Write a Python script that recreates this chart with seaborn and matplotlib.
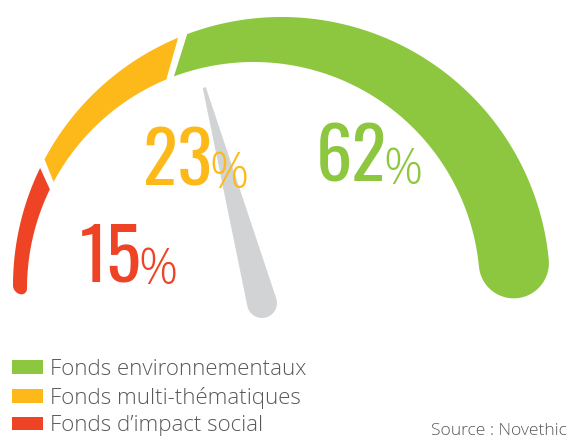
import numpy as np
import matplotlib
matplotlib.use("Agg")
import matplotlib.pyplot as plt
from matplotlib.patches import Patch, Polygon
import seaborn as sns

# ---- data ----
categories = ["Fonds d\u2019impact social", "Fonds multi-th\u00e9matiques", "Fonds environnementaux"]
values = [15, 23, 62]
colors = ["#EE4324", "#FDB819", "#8DC63F"]
source_text = "Source : Novethic"

sns.set_theme(style="white")
plt.rcParams['font.family'] = ['Open Sans', 'DejaVu Sans']

W, H = 571, 438
fig = plt.figure(figsize=(W / 100, H / 100), dpi=100)
ax = fig.add_axes([0, 0, 1, 1])
ax.set_xlim(0, W)
ax.set_ylim(H, 0)
ax.axis("off")

# gauge geometry (outer and inner circles differ -> tapered band)
co, ro = (281.5, 285.5), 268.5
ci, ri = (253.5, 288.5), 226.5
scale_start, scale_end = 180.0, 0.0   # gauge scale (0% .. 100%)
t_end = 5.5                            # where the band body stops before its round cap
gap_px = 9.0


def pt(c, r, t):
    tr = np.radians(t)
    return np.array([c[0] + r * np.cos(tr), c[1] - r * np.sin(tr)])


def cap(p_from, p_to, d):
    m = (p_from + p_to) / 2
    r = np.linalg.norm(p_from - m)
    u = (p_from - m) / r
    phis = np.linspace(0, np.pi, 30)
    return [m + r * (u * np.cos(f) + d * np.sin(f)) for f in phis]


total = sum(values)
span = scale_start - scale_end
bounds = [scale_start]
for v in values:
    bounds.append(bounds[-1] - span * v / total)
bounds[-1] = t_end

rmid = (ro + ri) / 2
half_gap = np.degrees(gap_px / 2 / rmid)
for i, (v, col) in enumerate(zip(values, colors)):
    t0, t1 = bounds[i], bounds[i + 1]
    a0 = t0 - (half_gap if i > 0 else 0)
    a1 = t1 + (half_gap if i < len(values) - 1 else 0)
    ts = np.linspace(a0, a1, 120)
    outer = [pt(co, ro, t) for t in ts]
    inner = [pt(ci, ri, t) for t in ts[::-1]]
    poly = list(outer)
    if i == len(values) - 1:
        tr = np.radians(a1)
        d = np.array([np.sin(tr), np.cos(tr)])
        poly += cap(pt(co, ro, a1), pt(ci, ri, a1), d)
    poly += inner
    if i == 0:
        tr = np.radians(a0)
        d = np.array([-np.sin(tr), -np.cos(tr)])
        poly += cap(pt(ci, ri, a0), pt(co, ro, a0), d)
    ax.add_patch(Polygon(np.array(poly), closed=True, facecolor=col, edgecolor="none"))

# needle
pivot = np.array([262.0, 303.0])
needle_angle, needle_len, base_r, tip_r = 105.0, 223.0, 15.0, 1.6
dvec = np.array([np.cos(np.radians(needle_angle)), -np.sin(np.radians(needle_angle))])
nvec = np.array([-dvec[1], dvec[0]])
tip = pivot + dvec * needle_len
pts = [tip + nvec * tip_r, tip - nvec * tip_r]
phis = np.linspace(0, np.pi, 30)
for f in phis:
    pts.append(pivot + base_r * (-nvec * np.cos(f) - dvec * np.sin(f)))
ax.add_patch(Polygon(np.array(pts), closed=True, facecolor="#D1D3D4", edgecolor="none", zorder=3))

# percent labels
label_pos = [(80, 282), (143, 186), (316, 182)]
fig.canvas.draw()
renderer = fig.canvas.get_renderer()
for v, col, (x, y) in zip(values, colors, label_pos):
    t = ax.text(x, y, f"{v}", color=col, fontsize=52, family=['Oswald', 'DejaVu Sans'],
                ha="left", va="baseline", zorder=4)
    bb = t.get_window_extent(renderer=renderer)
    xr = ax.transData.inverted().transform((bb.x1, bb.y0))[0]
    ax.text(xr - 3, y + 2, "%", color=col, fontsize=35, fontweight=300,
            family=['Open Sans', 'DejaVu Sans'], ha="left", va="baseline", zorder=4)

# legend
handles = [Patch(facecolor=c, edgecolor="none") for c in colors[::-1]]
leg = ax.legend(handles, categories[::-1], loc="upper left", bbox_to_anchor=(12 / W, 1 - 359 / H),
                frameon=False, handlelength=1.40, handleheight=0.58,
                handletextpad=0.3, labelspacing=0.3, borderpad=0, borderaxespad=0,
                prop={'family': ['Open Sans', 'DejaVu Sans'], 'weight': 300, 'size': 16.0})
for txt in leg.get_texts():
    txt.set_color("#58595B")

ax.text(567, 435, source_text, ha="right", va="baseline", fontsize=12.6, fontweight=300,
        color="#58595B", family=['Open Sans', 'DejaVu Sans'])

fig.savefig("out.png", dpi=100)
